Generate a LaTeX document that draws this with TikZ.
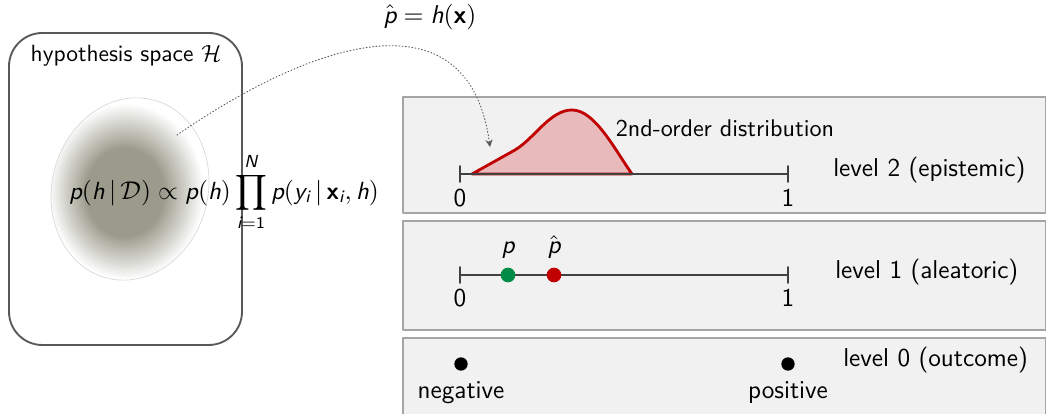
\documentclass[tikz,border=0pt]{standalone}
\usepackage{amsmath,amssymb}
\renewcommand{\familydefault}{\sfdefault}
\DeclareMathAlphabet{\mathsfit}{\encodingdefault}{\sfdefault}{m}{sl}
\DeclareMathAlphabet{\mathsfbf}{\encodingdefault}{\sfdefault}{bx}{n}
\newcommand{\sv}[1]{\mathsfit{#1}}
\usetikzlibrary{arrows}
\definecolor{darkred}{RGB}{192,0,0}
\definecolor{lightred}{RGB}{232,186,188}
\definecolor{dotgreen}{RGB}{0,140,70}
\definecolor{panelgray}{RGB}{241,241,241}
\definecolor{panelline}{RGB}{165,165,165}
\definecolor{blobgray}{RGB}{155,155,140}
\pgfdeclareradialshading{blob}{\pgfpoint{-2bp}{-1bp}}{color(0bp)=(blobgray); color(11bp)=(blobgray); color(22bp)=(white); color(50bp)=(white)}

\begin{document}
\begin{tikzpicture}[line cap=round,line join=round,>=stealth,x=0.015cm,y=-0.015cm,
		every node/.style={font=\fontsize{11}{13}\selectfont},
		panel/.style={draw=panelline, fill=panelgray, line width=0.6pt},
		axis/.style={draw=black!75, line width=0.8pt},
		dist/.style={draw=darkred, fill=lightred, line width=1.2pt},
		dot/.style={circle, inner sep=0pt, minimum size=2.2mm},
		levlabel/.style={anchor=west}]
	\useasboundingbox (0,0) rectangle (1046,414);
	% hypothesis space
	\draw[draw=black!65, line width=0.8pt, rounded corners=5mm] (9,33) rectangle (242,345);
	\node[font=\fontsize{10}{12}\selectfont] (htitle) at (126,56) {hypothesis space $\mathcal{H}$};
	\shade[shading=blob, draw=black!15, line width=0.3pt, rotate around={-15:(130,189)}] (130,189) ellipse [x radius=78, y radius=92];
	\node[font=\fontsize{10.6}{13}\selectfont] (post) at (224,192) {$\sv{p}(\sv{h}\,|\,\mathcal{D}) \propto \sv{p}(\sv{h})\displaystyle\prod_{\sv{i}=\mathsf{1}}^{\sv{N}} \sv{p}(\sv{y}_{\sv{i}}\,|\,\mathsfbf{x}_{\sv{i}}, \sv{h})$};
	% Panneaux
	\draw[panel] (403,97) rectangle (1046,213);
	\draw[panel] (403,221) rectangle (1046,330);
	\draw[panel] (403,338) rectangle (1046,420);
	% Etage 2
	\coordinate (a2l) at (460,174);
	\coordinate (a2r) at (788,174);
	\draw[dist] (472,174) -- (515,150) .. controls (535,138) and (550,110) .. (572,110) .. controls (595,110) and (615,150) .. (632,174) -- cycle;
	\draw[axis] (a2l) -- (a2r);
	\draw[axis] (a2l) ++(0,-8) -- ++(0,16);
	\draw[axis] (a2r) ++(0,-8) -- ++(0,16);
	\node (z2) at (460,198) {0};
	\node (o2) at (788,198) {1};
	\node[font=\fontsize{10.3}{12}\selectfont] (dlabel) at (725,128) {2nd-order distribution};
	\node[levlabel] (lev2) at (825,170) {level 2 (epistemic)};
	% Etage 1
	\coordinate (a1l) at (460,275);
	\coordinate (a1r) at (788,275);
	\draw[axis] (a1l) -- (a1r);
	\draw[axis] (a1l) ++(0,-8) -- ++(0,16);
	\draw[axis] (a1r) ++(0,-8) -- ++(0,16);
	\node (z1) at (460,298) {0};
	\node (o1) at (788,298) {1};
	\node[dot, fill=dotgreen] (ptrue) at (508,275) {};
	\node[dot, fill=darkred] (pest) at (554,275) {};
	\node[above=0pt] at (ptrue.north) {$\sv{p}$};
	\node[above=0pt] at (pest.north) {$\hat{\sv{p}}$};
	\node[levlabel] (lev1) at (827,272) {level 1 (aleatoric)};
	% Etage 0
	\node[dot, fill=black, minimum size=2mm] (neg) at (461,364) {};
	\node[dot, fill=black, minimum size=2mm] (pos) at (788,364) {};
	\node[below=1pt] (negl) at (neg.south) {negative};
	\node[below=1pt] (posl) at (pos.south) {positive};
	\node[levlabel] (lev0) at (835,360) {level 0 (outcome)};
	% fleche
	\coordinate (src) at (177,135);
	\coordinate (tgt) at (490,147);
	\draw[->, densely dotted, black!65, line width=0.4pt] (src) .. controls (330,30) and (470,0) .. (tgt);
	\node (phat) at (430,17) {$\hat{\sv{p}} = \sv{h}(\mathsfbf{x})$};
\end{tikzpicture}
\end{document}
